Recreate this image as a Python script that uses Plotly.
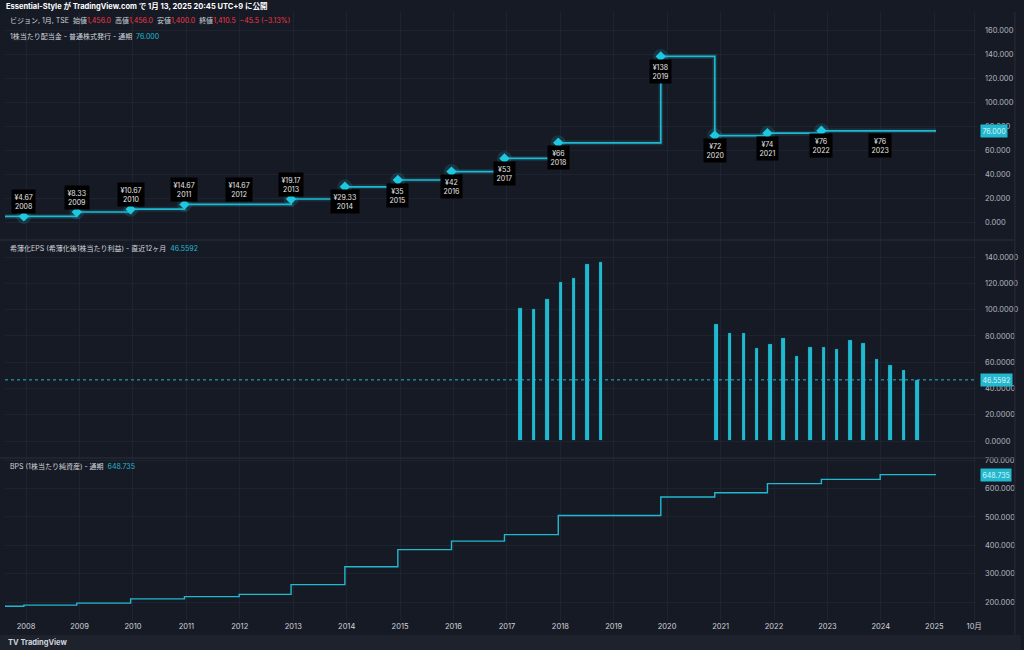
import plotly.graph_objects as go

# ---------------- data ----------------
div_dates = ["2007-08-10", "2007-12-17", "2008-12-13", "2009-12-16", "2010-12-19", "2011-12-28",
             "2012-12-17", "2013-12-20", "2014-12-17", "2015-12-19", "2016-12-15", "2017-12-18",
             "2019-11-19", "2020-11-22", "2021-11-17", "2022-11-21", "2023-12-28", "2025-01-13"]
div_values = [4.67, 4.67, 8.33, 10.67, 14.67, 14.67, 19.17, 29.33, 35, 42, 53, 66,
              138, 72, 74, 76, 76, 76]
div_label_dates = div_dates[1:17]
div_label_values = div_values[1:17]
div_label_years = ["2008", "2009", "2010", "2011", "2012", "2013", "2014", "2015", "2016",
                   "2017", "2018", "2019", "2020", "2021", "2022", "2023"]
div_label_text = ["¥4.67", "¥8.33", "¥10.67", "¥14.67", "¥14.67", "¥19.17", "¥29.33", "¥35",
                  "¥42", "¥53", "¥66", "¥138", "¥72", "¥74", "¥76", "¥76"]

eps_dates = ["2017-04-03", "2017-07-05", "2017-10-06", "2018-01-06", "2018-04-06", "2018-07-05",
             "2018-10-05",
             "2020-12-04", "2021-03-07", "2021-06-08", "2021-09-07", "2021-12-07", "2022-03-07",
             "2022-06-06", "2022-09-07", "2022-12-07", "2023-03-08", "2023-06-07", "2023-09-05",
             "2023-12-08", "2024-03-08", "2024-06-07", "2024-09-08"]
eps_values = [101.0, 100.2, 108.3, 120.8, 123.8, 134.5, 136.0,
              88.8, 82.0, 82.4, 70.5, 73.8, 78.2, 64.5, 71.3, 71.8, 70.2, 76.6, 74.6,
              62.2, 57.6, 53.8, 46.5592]
eps_last = 46.5592

bps_dates = ["2007-08-10", "2007-12-17", "2008-12-13", "2009-12-16", "2010-12-19", "2011-12-28",
             "2012-12-17", "2013-12-20", "2014-12-17", "2015-12-19", "2016-12-15", "2017-12-18",
             "2019-11-19", "2020-11-22", "2021-11-17", "2022-11-21", "2023-12-28", "2025-01-13"]
bps_values = [186, 190, 197, 212, 220, 228, 262, 325, 385, 415, 438, 505,
              570, 585, 617, 632, 648.735, 648.735]

x_tick_vals = ["2008-01-01", "2009-01-01", "2010-01-01", "2011-01-01", "2012-01-01", "2013-01-01",
               "2014-01-01", "2015-01-01", "2016-01-01", "2017-01-01", "2018-01-01", "2019-01-01",
               "2020-01-01", "2021-01-01", "2022-01-01", "2023-01-01", "2024-01-01", "2025-01-01",
               "2025-10-01"]
x_tick_text = ["2008", "2009", "2010", "2011", "2012", "2013", "2014", "2015", "2016", "2017",
               "2018", "2019", "2020", "2021", "2022", "2023", "2024", "2025", "10月"]
x_range = ["2007-08-10", "2025-10-20"]

div_ticks = [0, 20, 40, 60, 80, 100, 120, 140, 160]
eps_ticks = [0, 20, 40, 60, 80, 100, 120, 140]
bps_ticks = [200, 300, 400, 500, 600, 700]

# ---------------- style ----------------
BG = "#161a25"
GRID = "#1f2331"
CYAN = "#22b8cf"
TXT = "#b2b5be"
RED = "#f23645"
FONT = "Inter, Noto Sans CJK JP, sans-serif"

W, H = 1024, 650
ML, MR, MT, MB = 5, 44, 12, 30
PW = W - ML - MR
PH = H - MT - MB


def px_x(px):
    return (px - ML) / PW


def px_y(py):
    return (H - MB - py) / PH


fig = go.Figure()

# dividends pane
fig.add_trace(go.Scatter(x=div_dates, y=div_values, mode="lines", line=dict(shape="hv", width=5, color="rgba(34,184,207,0.15)"),
                         hoverinfo="skip", xaxis="x", yaxis="y", showlegend=False))
fig.add_trace(go.Scatter(x=div_dates, y=div_values, mode="lines", line=dict(shape="hv", width=1.7, color=CYAN),
                         xaxis="x", yaxis="y", showlegend=False))
mk_x = [d for i, d in enumerate(div_label_dates) if i == 0 or div_label_values[i] != div_label_values[i - 1]]
mk_y = [v for i, v in enumerate(div_label_values) if i == 0 or v != div_label_values[i - 1]]
fig.add_trace(go.Scatter(x=mk_x, y=mk_y, mode="markers", marker=dict(symbol="circle", size=15, color="rgba(34,184,207,0.16)"),
                         hoverinfo="skip", xaxis="x", yaxis="y", showlegend=False))
fig.add_trace(go.Scatter(x=mk_x, y=mk_y, mode="markers", marker=dict(symbol="diamond", size=8, color="#1ec8e0"),
                         xaxis="x", yaxis="y", showlegend=False))

# EPS pane
fig.add_trace(go.Bar(x=eps_dates, y=eps_values, width=30 * 86400000, marker=dict(color=CYAN, line=dict(color="#0d1018", width=0.8)),
                     xaxis="x2", yaxis="y2", showlegend=False))

# BPS pane
fig.add_trace(go.Scatter(x=bps_dates, y=bps_values, mode="lines", line=dict(shape="hv", width=1.4, color=CYAN),
                         xaxis="x3", yaxis="y3", showlegend=False))

ann = []
for d, v, t, yr in zip(div_label_dates, div_label_values, div_label_text, div_label_years):
    above = int(yr) <= 2013
    ann.append(dict(x=d, y=v, xref="x", yref="y", text=f"{t}<br>{yr}", showarrow=False,
                    yshift=15 if above else -15, bgcolor="#000000", borderpad=2.5,
                    font=dict(family=FONT, size=7, color="#e8e8ea")))

# header
ann.append(dict(x=px_x(4), y=px_y(6), xref="paper", yref="paper", xanchor="left", yanchor="middle", showarrow=False,
                text="<b>Essential-Style が TradingView.com で 1月 13, 2025 20:45 UTC+9 に公開</b>",
                font=dict(family=FONT, size=7.5, color="#ffffff")))
red = lambda s: f"<span style='color:{RED}'>{s}</span>"
ann.append(dict(x=px_x(8), y=px_y(20), xref="paper", yref="paper", xanchor="left", yanchor="middle", showarrow=False,
                text="ビジョン, 1月, TSE  始値" + red("1,456.0") + "  高値" + red("1,456.0") + "  安値" + red("1,400.0")
                     + "  終値" + red("1,410.5") + "  " + red("−45.5 (−3.13%)"),
                font=dict(family=FONT, size=7, color="#d1d4dc")))
cy = lambda s: f"<span style='color:{CYAN}'>{s}</span>"
for ty, txt in [(37, "1株当たり配当金 - 普通株式発行 - 通期  " + cy("76.000")),
                (248, "希薄化EPS (希薄化後1株当たり利益) - 直近12ヶ月  " + cy("46.5592")),
                (466, "BPS (1株当たり純資産) - 通期  " + cy("648.735"))]:
    ann.append(dict(x=px_x(8), y=px_y(ty), xref="paper", yref="paper", xanchor="left", yanchor="middle", showarrow=False,
                    text=txt, font=dict(family=FONT, size=7, color="#d1d4dc")))

# last-value boxes on price scales
for yref, val, txt in [("y", div_values[-1], "76.000"), ("y2", eps_last, "46.5592"), ("y3", bps_values[-1], "648.735")]:
    ann.append(dict(x=px_x(983), y=val, xref="paper", yref=yref, xanchor="left", yanchor="middle", showarrow=False,
                    text=txt, bgcolor=CYAN, borderpad=1.5, font=dict(family=FONT, size=7, color="#dff6fa")))

# bottom logo
ann.append(dict(x=px_x(6), y=px_y(642), xref="paper", yref="paper", xanchor="left", yanchor="middle", showarrow=False,
                text="<b>TV TradingView</b>", font=dict(family=FONT, size=7.5, color="#d1d4dc")))

shapes = [
    dict(type="rect", xref="paper", yref="paper", x0=px_x(0), x1=px_x(1024), y0=px_y(650), y1=px_y(635),
         fillcolor="#1e222d", line=dict(width=0), layer="below"),
    dict(type="line", xref="paper", yref="paper", x0=px_x(0), x1=px_x(1018), y0=px_y(240), y1=px_y(240),
         line=dict(color="#2a2e39", width=1.2)),
    dict(type="line", xref="paper", yref="paper", x0=px_x(0), x1=px_x(1018), y0=px_y(458), y1=px_y(458),
         line=dict(color="#2a2e39", width=1.2)),
    dict(type="line", xref="paper", yref="paper", x0=px_x(1018), x1=px_x(1018), y0=px_y(635), y1=px_y(12),
         line=dict(color="#2a2e39", width=1)),
    dict(type="line", xref="paper", yref="y2", x0=0, x1=1, y0=eps_last, y1=eps_last,
         line=dict(color=CYAN, width=1, dash="dot")),
]

d1 = [px_y(240), 1.0]
d2 = [px_y(458), px_y(240)]
d3 = [0.0, px_y(458)]

xcommon = dict(type="date", range=x_range, tickvals=x_tick_vals, ticktext=x_tick_text, showgrid=True,
               gridcolor=GRID, gridwidth=1, zeroline=False, showline=False, ticks="")
ycommon = dict(side="right", showgrid=True, gridcolor=GRID, zeroline=False, showline=False, ticks="",
               tickfont=dict(family=FONT, size=7.5, color=TXT), ticklabelstandoff=7)

fig.update_layout(
    width=W, height=H, margin=dict(l=ML, r=MR, t=MT, b=MB),
    paper_bgcolor=BG, plot_bgcolor=BG, showlegend=False, bargap=0,
    xaxis=dict(**xcommon, domain=[0, 1], anchor="y", showticklabels=False),
    xaxis2=dict(**xcommon, domain=[0, 1], anchor="y2", matches="x", showticklabels=False),
    xaxis3=dict(**xcommon, domain=[0, 1], anchor="y3", matches="x", showticklabels=True,
                tickfont=dict(family=FONT, size=7.5, color="#d1d4dc")),
    yaxis=dict(**ycommon, domain=d1, range=[-15, 175], tickvals=div_ticks, tickformat=".3f"),
    yaxis2=dict(**ycommon, domain=d2, range=[-12.9, 153], tickvals=eps_ticks, tickformat=".4f"),
    yaxis3=dict(**ycommon, domain=d3, range=[137.8, 707.2], tickvals=bps_ticks, tickformat=".3f"),
    annotations=ann, shapes=shapes,
)

fig.write_html("out.html", config={"displayModeBar": False},
               post_script="document.body.style.margin='0';document.body.style.overflow='hidden';")
